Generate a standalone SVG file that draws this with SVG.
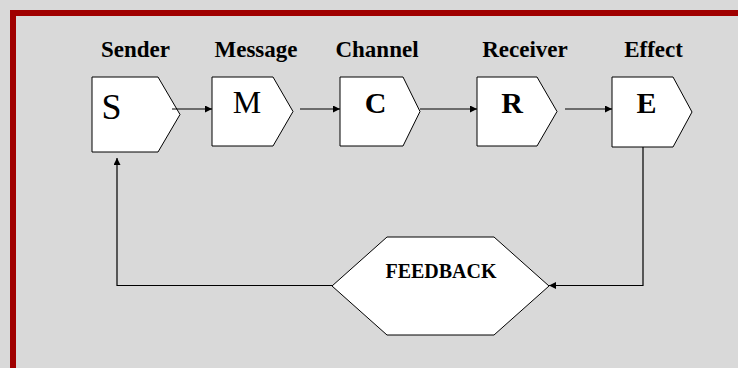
<svg xmlns="http://www.w3.org/2000/svg" width="738" height="368" viewBox="0 0 738 368">
  <style>
    .shape { fill: #ffffff; stroke: #000000; stroke-width: 1; }
    .wire { fill: none; stroke: #000000; stroke-width: 1.2; }
    .label { font-family: "Liberation Serif", "Times New Roman", serif; font-weight: bold; font-size: 23px; fill: #000000; text-anchor: middle; }
    .letter { font-family: "Liberation Serif", "Times New Roman", serif; fill: #000000; text-anchor: middle; }
    .bold { font-weight: bold; font-size: 30px; }
    .fb { font-family: "Liberation Serif", "Times New Roman", serif; font-weight: bold; font-size: 20px; text-anchor: middle; }
  </style>
  <defs>
    <marker id="arrow" viewBox="0 0 10 10" refX="10" refY="5" markerWidth="8" markerHeight="7" markerUnits="userSpaceOnUse" orient="auto">
      <path d="M0,0 L10,5 L0,10 z" fill="#000000"/>
    </marker>
  </defs>

  <!-- background and frame -->
  <rect x="0" y="0" width="738" height="368" fill="#d9d9d9"/>
  <rect x="13" y="13" width="740" height="370" fill="none" stroke="#a00000" stroke-width="6"/>

  <!-- column headings -->
  <g id="headings">
    <text class="label" x="135.5" y="57">Sender</text>
    <text class="label" x="256" y="57">Message</text>
    <text class="label" x="377" y="57">Channel</text>
    <text class="label" x="525" y="57">Receiver</text>
    <text class="label" x="653.5" y="57">Effect</text>
  </g>

  <g id="node-sender">
    <polygon class="shape" points="92,77 158,77 180,114.5 158,152 92,152"/>
    <text class="letter" x="111.5" y="119" font-size="36">S</text>
  </g>
  <g id="node-message">
    <polygon class="shape" points="212,77 273,77 293,111.5 273,146 212,146"/>
    <text class="letter" x="247" y="113" font-size="32">M</text>
  </g>
  <g id="node-channel">
    <polygon class="shape" points="340,77 403,77 420,111.5 403,146 340,146"/>
    <text class="letter bold" x="375.5" y="113">C</text>
  </g>
  <g id="node-receiver">
    <polygon class="shape" points="477,77 537,77 557,111.5 537,146 477,146"/>
    <text class="letter bold" x="512" y="113">R</text>
  </g>
  <g id="node-effect">
    <polygon class="shape" points="612,77 673,77 692,112 673,147 612,147"/>
    <text class="letter bold" x="646.5" y="113">E</text>
  </g>
  <g id="node-feedback">
    <polygon class="shape" points="332,286 387,237 494,237 549,286 494,335 387,335"/>
    <text class="fb" x="441" y="278">FEEDBACK</text>
  </g>

  <g id="connectors">
    <line class="wire" x1="172" y1="109" x2="212" y2="109" marker-end="url(#arrow)"/>
    <line class="wire" x1="300" y1="109" x2="340" y2="109" marker-end="url(#arrow)"/>
    <line class="wire" x1="420" y1="109" x2="477" y2="109" marker-end="url(#arrow)"/>
    <line class="wire" x1="565" y1="109" x2="612" y2="109" marker-end="url(#arrow)"/>
    <polyline class="wire" points="643,147 643,285.5 549,285.5" marker-end="url(#arrow)"/>
    <polyline class="wire" points="332,285.5 117,285.5 117,158" marker-end="url(#arrow)"/>
  </g>
</svg>
